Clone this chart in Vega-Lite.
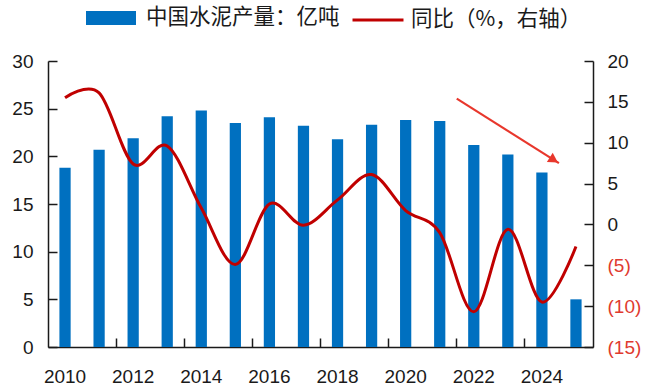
{
  "$schema": "https://vega.github.io/schema/vega-lite/v6.json",
  "width": 545,
  "height": 286,
  "autosize": {"type": "none"},
  "padding": {"left": 48, "top": 61, "right": 57, "bottom": 41},
  "background": "white",
  "config": {
    "view": {"stroke": null},
    "font": "Liberation Sans",
    "axis": {
      "labelFont": "Liberation Sans",
      "labelFontSize": 19,
      "labelColor": "#1a1a1a",
      "domainColor": "#1a1a1a",
      "tickColor": "#1a1a1a",
      "domainWidth": 1.5,
      "tickWidth": 1.5,
      "grid": false,
      "title": null
    }
  },
  "datasets": {
    "main": [
      {"year": "2010", "prod": 18.8, "yoy": 15.5},
      {"year": "2011", "prod": 20.7, "yoy": 16.1},
      {"year": "2012", "prod": 21.9, "yoy": 7.4},
      {"year": "2013", "prod": 24.2, "yoy": 9.6},
      {"year": "2014", "prod": 24.8, "yoy": 2.0},
      {"year": "2015", "prod": 23.5, "yoy": -4.9},
      {"year": "2016", "prod": 24.1, "yoy": 2.5},
      {"year": "2017", "prod": 23.2, "yoy": -0.1},
      {"year": "2018", "prod": 21.8, "yoy": 3.0},
      {"year": "2019", "prod": 23.3, "yoy": 6.1},
      {"year": "2020", "prod": 23.8, "yoy": 1.7},
      {"year": "2021", "prod": 23.7, "yoy": -1.0},
      {"year": "2022", "prod": 21.2, "yoy": -10.7},
      {"year": "2023", "prod": 20.2, "yoy": -0.6},
      {"year": "2024", "prod": 18.3, "yoy": -9.5},
      {"year": "2025", "prod": 5.0, "yoy": -2.7}
    ],
    "arrow": [
      {"year": "2022", "yoy": 15.4},
      {"year": "2025", "yoy": 7.5}
    ],
    "arrowhead": [
      {"year": "2024", "yoy": 7.9}
    ]
  },
  "layer": [
    {
      "data": {"name": "main"},
      "mark": {"type": "bar", "width": {"band": 0.33}, "color": "#0070C0"},
      "encoding": {
        "x": {
          "field": "year",
          "type": "ordinal",
          "scale": {"paddingInner": 0, "paddingOuter": 0},
          "axis": {
            "orient": "bottom",
            "values": ["2010", "2012", "2014", "2016", "2018", "2020", "2022", "2024"],
            "ticks": false,
            "labelAngle": 0,
            "labelPadding": 20
          }
        },
        "y": {
          "field": "prod",
          "type": "quantitative",
          "scale": {"domain": [0, 30], "nice": false, "zero": true},
          "axis": {
            "orient": "left",
            "values": [0, 5, 10, 15, 20, 25, 30],
            "tickSize": -9,
            "labelPadding": 24
          }
        },
        "color": {
          "datum": "中国水泥产量：亿吨",
          "scale": {"range": ["#0070C0"]},
          "legend": {
            "orient": "none",
            "legendX": 38,
            "legendY": -68,
            "title": null,
            "padding": 0,
            "labelFont": "Noto Sans CJK SC",
            "labelFontSize": 21.5,
            "labelColor": "#1a1a1a",
            "labelOffset": 10,
            "labelLimit": 400,
            "symbolType": "M-1,-0.28H1V0.28H-1Z",
            "symbolSize": 2500,
            "symbolStrokeWidth": 0
          }
        }
      }
    },
    {
      "layer": [
        {
          "data": {"name": "main"},
          "mark": {"type": "line", "interpolate": "cardinal", "strokeWidth": 3},
          "encoding": {
            "x": {
              "field": "year",
              "type": "ordinal",
              "axis": {
                "orient": "bottom",
                "values": ["2012", "2014", "2016", "2018", "2020", "2022", "2024"],
                "bandPosition": 0,
                "labels": false,
                "domain": false,
                "tickSize": -9
              }
            },
            "y": {
              "field": "yoy",
              "type": "quantitative",
              "scale": {"domain": [-15, 20], "nice": false, "zero": false},
              "axis": {
                "orient": "right",
                "values": [-15, -10, -5, 0, 5, 10, 15, 20],
                "tickSize": -9,
                "labelPadding": 23,
                "labelExpr": "datum.value < 0 ? '(' + abs(datum.value) + ')' : datum.value",
                "labelColor": {"condition": {"test": "datum.value < 0", "value": "#E03A2F"}, "value": "#1a1a1a"}
              }
            },
            "stroke": {
              "datum": "同比（%，右轴）",
              "scale": {"range": ["#C00000"]},
              "legend": {
                "orient": "none",
                "legendX": 303,
                "legendY": -68,
                "title": null,
                "padding": 0,
                "labelFont": "Noto Sans CJK SC",
                "labelFontSize": 21.5,
                "labelColor": "#1a1a1a",
                "labelOffset": 6,
                "labelLimit": 400,
                "symbolType": "stroke",
                "symbolSize": 2600,
                "symbolStrokeWidth": 3
              }
            }
          }
        },
        {
          "data": {"name": "arrow"},
          "mark": {"type": "line", "color": "#E8372C", "strokeWidth": 2.2},
          "encoding": {
            "x": {"field": "year", "type": "ordinal", "bandPosition": 0},
            "y": {"field": "yoy", "type": "quantitative"}
          }
        },
        {
          "data": {"name": "arrowhead"},
          "mark": {"type": "point", "shape": "triangle-right", "filled": true, "color": "#E8372C", "size": 120, "angle": 32, "opacity": 1},
          "encoding": {
            "x": {"field": "year", "type": "ordinal", "bandPosition": 0.85},
            "y": {"field": "yoy", "type": "quantitative"}
          }
        }
      ]
    }
  ],
  "resolve": {"scale": {"y": "independent"}, "axis": {"x": "independent"}}
}
